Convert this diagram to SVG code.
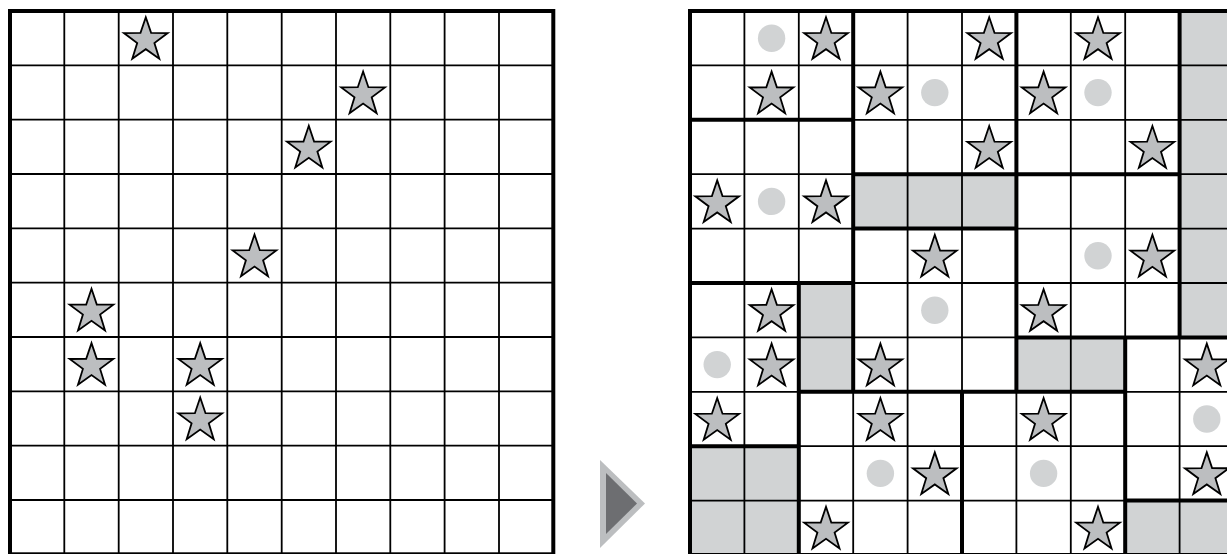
<svg xmlns="http://www.w3.org/2000/svg" width="1227" height="554" viewBox="0 0 1227 554">
<style>
.thin{fill:none;stroke:#000;stroke-width:1.8}
.thick{fill:none;stroke:#000;stroke-width:4;stroke-linecap:square}
.grey{fill:#d1d3d4}
.dot{fill:#d1d3d4}
.star{fill:#bcbec0;stroke:#000;stroke-width:1.8;stroke-linejoin:miter}
</style>
<defs>
<path id="st" class="star" d="M0,-23 L5.3,-7.3 L21.87,-7.11 L8.6,2.8 L13.52,18.61 L0,9 L-13.52,18.61 L-8.6,2.8 L-21.87,-7.11 L-5.3,-7.3 Z"/>
</defs>
<rect width="1227" height="554" fill="#fff"/>

<g id="left-grid">
<path class="thin" d="M64.3,11V554.3M118.7,11V554.3M173,11V554.3M227.3,11V554.3M281.7,11V554.3M336,11V554.3M390.3,11V554.3M444.6,11V554.3M499,11V554.3M10,65.3H553.3M10,119.7H553.3M10,174H553.3M10,228.3H553.3M10,282.7H553.3M10,337H553.3M10,391.3H553.3M10,445.6H553.3M10,500H553.3"/>
<rect class="thick" x="10" y="11" width="543.3" height="543.3"/>
<use href="#st" x="145.8" y="40.2"/>
<use href="#st" x="363.1" y="94.5"/>
<use href="#st" x="308.8" y="148.8"/>
<use href="#st" x="254.5" y="257.5"/>
<use href="#st" x="91.5" y="311.8"/>
<use href="#st" x="91.5" y="366.1"/>
<use href="#st" x="200.2" y="366.1"/>
<use href="#st" x="200.2" y="420.5"/>
</g>

<g id="arrow">
<polygon points="600,460 645,503.5 600,548" fill="#bcbec0"/>
<polygon points="606,473 637,503.5 606,534" fill="#6d6e71"/>
</g>

<g id="right-grid">
<g id="shaded">
<rect class="grey" x="1179.6" y="11" width="54.4" height="326.4"/>
<rect class="grey" x="853.2" y="174.2" width="163.2" height="54.4"/>
<rect class="grey" x="798.8" y="283" width="54.4" height="108.8"/>
<rect class="grey" x="1016.4" y="337.4" width="108.8" height="54.4"/>
<rect class="grey" x="690" y="446.2" width="108.8" height="108.8"/>
<rect class="grey" x="1125.2" y="500.6" width="108.8" height="54.4"/>
</g>
<g id="dots">
<circle class="dot" cx="771.6" cy="38.2" r="13.7"/>
<circle class="dot" cx="934.8" cy="92.6" r="13.7"/>
<circle class="dot" cx="1098" cy="92.6" r="13.7"/>
<circle class="dot" cx="771.6" cy="201.4" r="13.7"/>
<circle class="dot" cx="1098" cy="255.8" r="13.7"/>
<circle class="dot" cx="934.8" cy="310.2" r="13.7"/>
<circle class="dot" cx="717.2" cy="364.6" r="13.7"/>
<circle class="dot" cx="1206.8" cy="419" r="13.7"/>
<circle class="dot" cx="880.4" cy="473.4" r="13.7"/>
<circle class="dot" cx="1043.6" cy="473.4" r="13.7"/>
</g>
<path class="thin" d="M744.4,11V555M798.8,11V555M853.2,11V555M907.6,11V555M962,11V555M1016.4,11V555M1070.8,11V555M1125.2,11V555M1179.6,11V555M690,65.4H1234M690,119.8H1234M690,174.2H1234M690,228.6H1234M690,283H1234M690,337.4H1234M690,391.8H1234M690,446.2H1234M690,500.6H1234"/>
<g id="regions">
<rect class="thick" x="690" y="11" width="544" height="544"/>
<path class="thick" d="M853.2,11V391.8M690,119.8H853.2M853.2,174.2H1179.6M1016.4,11V391.8M1179.6,11V337.4M853.2,228.6H1016.4M690,283H853.2M798.8,283V555M1016.4,337.4H1234M1125.2,337.4V555M1125.2,500.6H1234M798.8,391.8H1125.2M962,391.8V555M690,446.2H798.8"/>
</g>
<g id="stars">
<use href="#st" x="826" y="40.2"/>
<use href="#st" x="989.2" y="40.2"/>
<use href="#st" x="1098" y="40.2"/>
<use href="#st" x="771.6" y="94.6"/>
<use href="#st" x="880.4" y="94.6"/>
<use href="#st" x="1043.6" y="94.6"/>
<use href="#st" x="989.2" y="149"/>
<use href="#st" x="1152.4" y="149"/>
<use href="#st" x="717.2" y="203.4"/>
<use href="#st" x="826" y="203.4"/>
<use href="#st" x="934.8" y="257.8"/>
<use href="#st" x="1152.4" y="257.8"/>
<use href="#st" x="771.6" y="312.2"/>
<use href="#st" x="1043.6" y="312.2"/>
<use href="#st" x="771.6" y="366.6"/>
<use href="#st" x="880.4" y="366.6"/>
<use href="#st" x="1206.8" y="366.6"/>
<use href="#st" x="717.2" y="421"/>
<use href="#st" x="880.4" y="421"/>
<use href="#st" x="1043.6" y="421"/>
<use href="#st" x="934.8" y="475.4"/>
<use href="#st" x="1206.8" y="475.4"/>
<use href="#st" x="826" y="529.8"/>
<use href="#st" x="1098" y="529.8"/>
</g>
</g>
</svg>
